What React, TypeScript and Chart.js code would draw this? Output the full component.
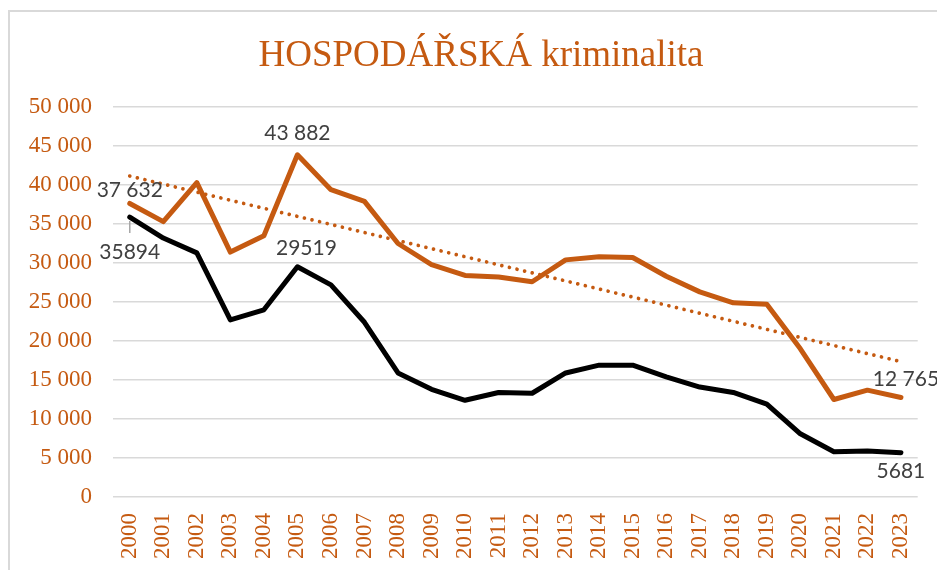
import { useEffect, useRef } from "react";
import { Chart, registerables } from "chart.js";

Chart.register(...registerables);

const chartTitle = "HOSPODÁŘSKÁ kriminalita";

const years = [
  "2000", "2001", "2002", "2003", "2004", "2005", "2006", "2007", "2008", "2009", "2010", "2011",
  "2012", "2013", "2014", "2015", "2016", "2017", "2018", "2019", "2020", "2021", "2022", "2023",
];

const orangeSeries = [
  37632, 35300, 40300, 31400, 33500, 43882, 39400, 37900, 32500, 29800, 28400, 28200,
  27600, 30400, 30800, 30700, 28300, 26300, 24900, 24700, 19000, 12500, 13700, 12765,
];

const blackSeries = [
  35894, 33200, 31300, 22700, 24000, 29519, 27200, 22400, 15900, 13800, 12400, 13400,
  13300, 15900, 16900, 16900, 15400, 14100, 13400, 11900, 8100, 5800, 5900, 5681,
];

// linear trend of the orange series: only its two ends
const trendStart = 41150;
const trendEnd = 17350;
const trendSeries: (number | null)[] = years.map((_, i) =>
  i === 0 ? trendStart : i === years.length - 1 ? trendEnd : null
);

const yTickLabels = ["0", "5 000", "10 000", "15 000", "20 000", "25 000", "30 000", "35 000", "40 000", "45 000", "50 000"];

const ORANGE = "#c55a11";
const LABEL_COLOR = "#404040";

// which points carry a value label
const labelPoints = [
  { ds: 0, i: 0, sep: " ", dx: 0, dy: -6, leader: false },
  { ds: 1, i: 0, sep: "", dx: 0, dy: 42, leader: true },
  { ds: 0, i: 5, sep: " ", dx: 0, dy: -15, leader: false },
  { ds: 1, i: 5, sep: "", dx: 9, dy: -12, leader: false },
  { ds: 0, i: 23, sep: " ", dx: 5, dy: -11, leader: false },
  { ds: 1, i: 23, sep: "", dx: 0, dy: 25, leader: false },
];

function fmt(v: number, sep: string) {
  const s = String(Math.round(v));
  return s.replace(/\B(?=(\d{3})+(?!\d))/g, sep);
}

const frameAndTitlePlugin = {
  id: "frameAndTitle",
  beforeDraw(chart: any) {
    const { ctx, width, height } = chart;
    ctx.save();
    ctx.strokeStyle = "#d9d9d9";
    ctx.lineWidth = 2;
    ctx.beginPath();
    ctx.moveTo(1, height);
    ctx.lineTo(1, 3);
    ctx.lineTo(width, 3);
    ctx.stroke();
    ctx.fillStyle = ORANGE;
    ctx.font = "37px 'Liberation Serif', 'Times New Roman', serif";
    ctx.textAlign = "center";
    ctx.textBaseline = "alphabetic";
    ctx.fillText(chartTitle, 473, 58);
    ctx.restore();
  },
};

const valueLabelPlugin = {
  id: "valueLabels",
  afterDatasetsDraw(chart: any) {
    const { ctx } = chart;
    ctx.save();
    ctx.font = "21px Lato";
    ctx.fillStyle = LABEL_COLOR;
    ctx.textAlign = "center";
    ctx.textBaseline = "alphabetic";
    labelPoints.forEach((lp) => {
      const meta = chart.getDatasetMeta(lp.ds);
      const el = meta.data[lp.i];
      if (!el) return;
      const value = chart.data.datasets[lp.ds].data[lp.i] as number;
      ctx.fillText(fmt(value, lp.sep), el.x + lp.dx, el.y + lp.dy);
      if (lp.leader) {
        ctx.strokeStyle = "#a6a6a6";
        ctx.lineWidth = 1.5;
        ctx.beginPath();
        ctx.moveTo(el.x, el.y + 4);
        ctx.lineTo(el.x, el.y + 16);
        ctx.stroke();
      }
    });
    ctx.restore();
  },
};

export default function App() {
  const ref = useRef<HTMLCanvasElement | null>(null);

  useEffect(() => {
    if (!ref.current) return;
    const chart = new Chart(ref.current, {
      type: "line",
      data: {
        labels: years,
        datasets: [
          {
            data: orangeSeries,
            borderColor: ORANGE,
            backgroundColor: ORANGE,
            borderWidth: 5,
            pointRadius: 0,
            tension: 0,
            borderJoinStyle: "round",
            borderCapStyle: "round",
          },
          {
            data: blackSeries,
            borderColor: "#000000",
            backgroundColor: "#000000",
            borderWidth: 5,
            pointRadius: 0,
            tension: 0,
            borderJoinStyle: "round",
            borderCapStyle: "round",
          },
          {
            data: trendSeries,
            borderColor: ORANGE,
            borderWidth: 3.7,
            borderDash: [0.01, 7.8],
            borderCapStyle: "round",
            pointRadius: 0,
            spanGaps: true,
          },
        ],
      },
      options: {
        responsive: false,
        animation: false,
        devicePixelRatio: 1,
        layout: { padding: { left: 10, right: 22, top: 99, bottom: 0 } },
        plugins: {
          legend: { display: false },
          tooltip: { enabled: false },
          title: { display: false },
        },
        scales: {
          x: {
            offset: true,
            grid: { display: false, drawTicks: false },
            border: { display: false },
            ticks: {
              color: ORANGE,
              font: { family: "'Liberation Serif', serif", size: 23 },
              minRotation: 90,
              maxRotation: 90,
              autoSkip: false,
              padding: 16,
            },
            afterFit(scale: any) {
              scale.height = 73;
            },
          },
          y: {
            min: 0,
            max: 50000,
            border: { display: false },
            grid: { color: "#d9d9d9", lineWidth: 1.5, drawTicks: false },
            ticks: {
              stepSize: 5000,
              color: ORANGE,
              font: { family: "'Liberation Serif', serif", size: 23 },
              padding: 21,
              callback: (_v: any, i: number) => yTickLabels[i],
            },
            afterFit(scale: any) {
              scale.width = 95;
            },
          },
        },
      },
      plugins: [frameAndTitlePlugin, valueLabelPlugin],
    });
    return () => chart.destroy();
  }, []);

  return <canvas ref={ref} width={937} height={562} style={{ display: "block" }} />;
}
